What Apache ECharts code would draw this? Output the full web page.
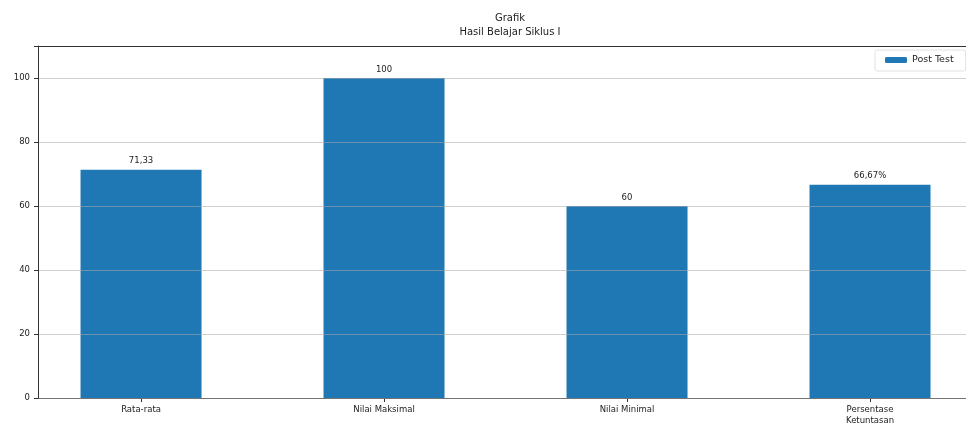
<!DOCTYPE html>
<html><head><meta charset="utf-8">
<script src="https://cdn.jsdelivr.net/npm/echarts@6/dist/echarts.min.js"></script>
<style>html,body{margin:0;padding:0;background:#fff}#c{width:966px;height:426px}</style>
</head><body><div id="c"></div>
<script>
const categories = ['Rata-rata', 'Nilai Maksimal', 'Nilai Minimal', 'Persentase\nKetuntasan'];
const postTest = [71.33, 100, 60, 66.67];
const barLabels = ['71,33', '100', '60', '66,67%'];
const yTicks = [0, 20, 40, 60, 80, 100];

const chart = echarts.init(document.getElementById('c'));
const font = 'DejaVu Sans';
chart.setOption({
  animation: false,
  textStyle: { fontFamily: font },
  title: {
    text: 'Grafik\nHasil Belajar Siklus I',
    left: 505, top: 6, textAlign: 'center',
    textStyle: { fontSize: 10, fontWeight: 'normal', color: '#222', lineHeight: 14, fontFamily: font }
  },
  legend: {
    left: 875, top: 50,
    data: ['Post Test'],
    itemWidth: 22, itemHeight: 6, itemGap: 5,
    borderColor: '#e2e2e2', borderWidth: 1, borderRadius: 2,
    padding: [5, 12, 6, 10],
    textStyle: { fontSize: 9.5, color: '#222', fontFamily: font }
  },
  grid: { left: 38, right: 0, top: 46, bottom: 28 },
  xAxis: {
    type: 'value', min: -0.424, max: 3.395, interval: 1,
    splitLine: { show: false },
    axisLine: { show: true, onZero: false, lineStyle: { color: '#333' } },
    axisTick: { show: true, length: 4, lineStyle: { color: '#333' }, customValues: [0,1,2,3] },
    axisLabel: {
      fontSize: 8.5, color: '#222', margin: 6, lineHeight: 11,
      customValues: [0,1,2,3],
      formatter: v => categories[Math.round(v)] || ''
    }
  },
  yAxis: {
    type: 'value', min: 0, max: 110, interval: 20, z: 5,
    axisLine: { show: true, onZero: false, lineStyle: { color: '#333' } },
    axisTick: { show: true, length: 4, lineStyle: { color: '#333' } },
    axisLabel: { fontSize: 8.5, color: '#222', margin: 8,
      formatter: v => (yTicks.includes(v) ? String(v) : '') },
    splitLine: { show: true, lineStyle: { color: 'rgba(170,170,170,0.55)', width: 1 } }
  },
  series: [{
    name: 'Post Test', type: 'bar',
    barWidth: 121,
    itemStyle: { color: '#1f77b4' },
    data: postTest.map((v, i) => [i, v]),
    label: {
      show: true, position: 'top', distance: 4,
      fontSize: 8.5, color: '#222',
      formatter: p => barLabels[p.dataIndex]
    }
  }],
  graphic: [{
    type: 'line', z: 10,
    shape: { x1: 38, y1: 46.5, x2: 966, y2: 46.5 },
    style: { stroke: '#333', lineWidth: 1 }
  }]
});
</script></body></html>
